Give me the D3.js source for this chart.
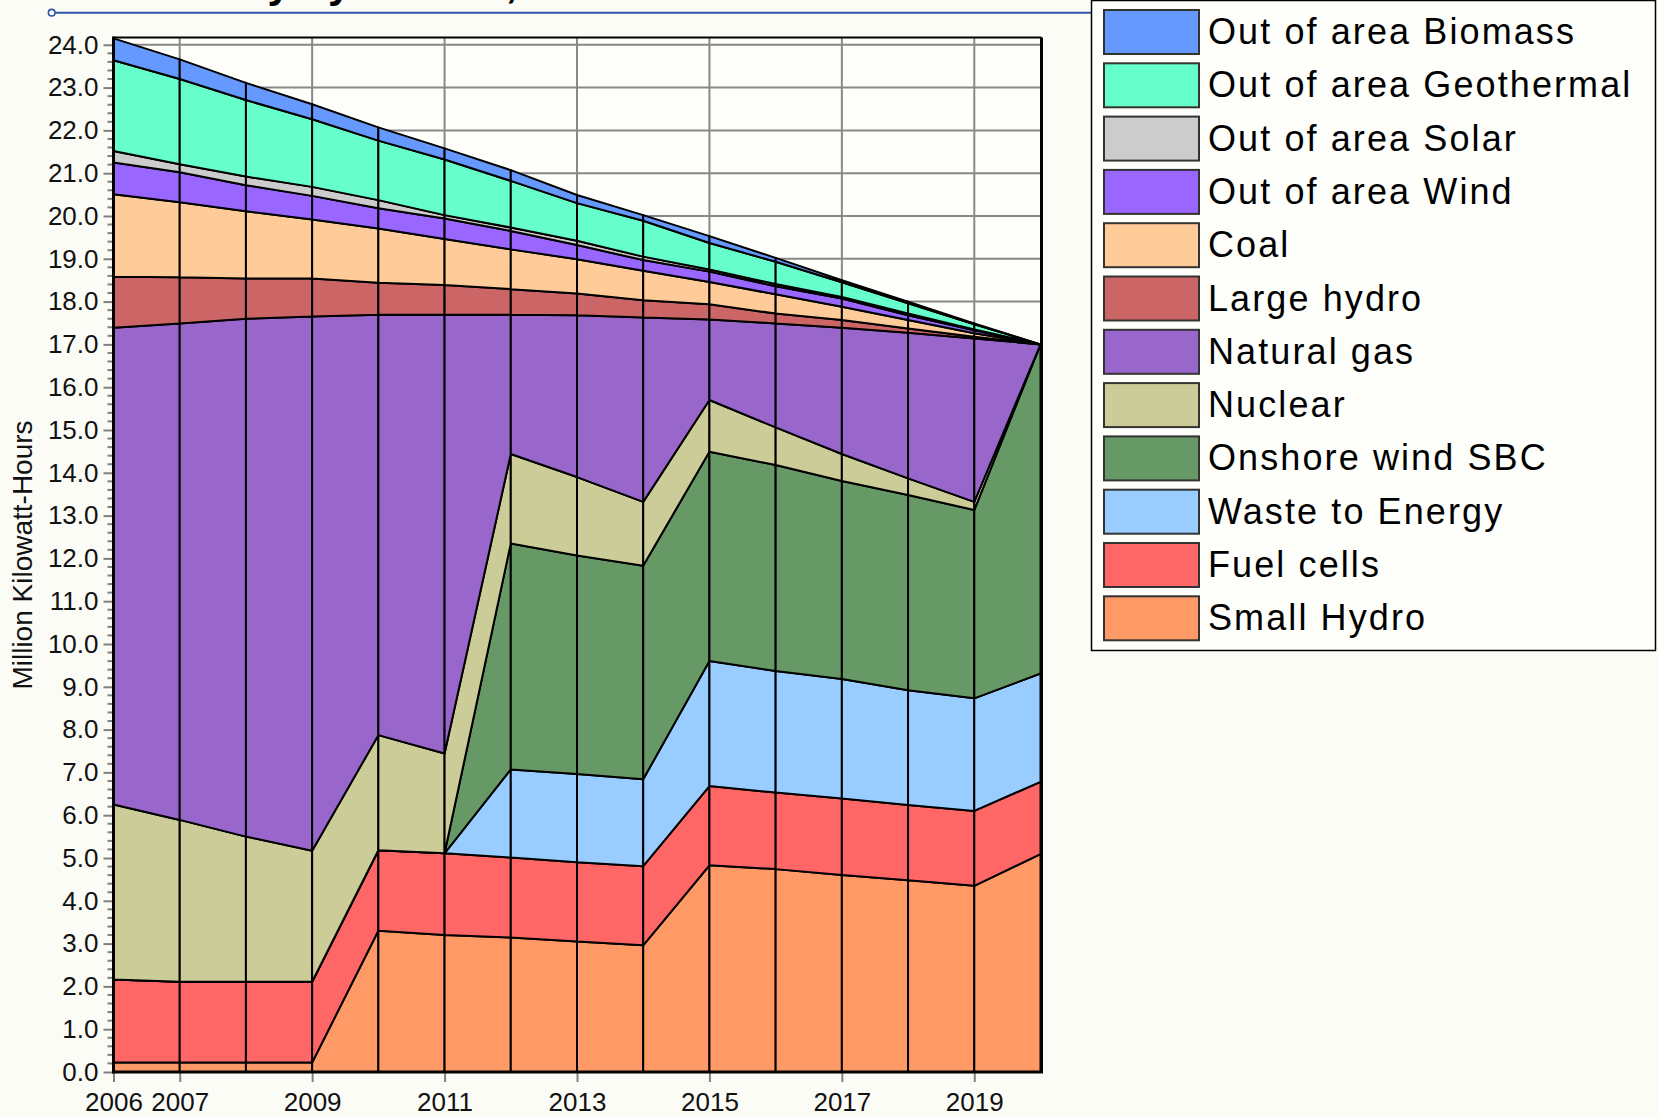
<!DOCTYPE html>
<html>
<head>
<meta charset="utf-8">
<script src="https://cdn.jsdelivr.net/npm/d3@7/dist/d3.min.js"></script>
<style>
  html, body { margin: 0; padding: 0; background: #fcfcf7; }
  svg { display: block; }
  text { font-family: "Liberation Sans", Arial, sans-serif; }
</style>
</head>
<body>
<svg id="chart" width="1658" height="1117"></svg>
<script>
// ---------- DATA ----------
const years = [2006, 2007, 2008, 2009, 2010, 2011, 2012, 2013, 2014, 2015, 2016, 2017, 2018, 2019, 2020];
const xTickYears = [2006, 2007, 2009, 2011, 2013, 2015, 2017, 2019];
const yTickValues = [0, 1, 2, 3, 4, 5, 6, 7, 8, 9, 10, 11, 12, 13, 14, 15, 16, 17, 18, 19, 20, 21, 22, 23, 24];

const smallHydro   = [0.22, 0.22, 0.22, 0.22, 3.30, 3.20, 3.14, 3.05, 2.96, 4.83, 4.74, 4.60, 4.48, 4.35, 5.09];
const fuelCells    = [1.94, 1.89, 1.89, 1.89, 1.88, 1.91, 1.87, 1.85, 1.85, 1.85, 1.79, 1.79, 1.76, 1.75, 1.69];
const wasteEnergy  = [0, 0, 0, 0, 0, 0, 2.06, 2.06, 2.03, 2.92, 2.84, 2.79, 2.68, 2.63, 2.53];
const onshoreWind  = [0, 0, 0, 0, 0, 0, 5.28, 5.11, 4.99, 4.89, 4.81, 4.63, 4.56, 4.40, 7.69];
const nuclear      = [4.09, 3.78, 3.39, 3.06, 2.69, 2.33, 2.09, 1.83, 1.49, 1.21, 0.88, 0.63, 0.39, 0.19, 0];
const naturalGas   = [11.14, 11.60, 12.10, 12.48, 9.82, 10.25, 3.25, 3.78, 4.31, 1.88, 2.43, 2.95, 3.40, 3.82, 0];
const largeHydro   = [1.19, 1.08, 0.94, 0.89, 0.75, 0.70, 0.60, 0.51, 0.40, 0.36, 0.23, 0.18, 0.10, 0.04, 0];
const coal         = [1.93, 1.75, 1.57, 1.38, 1.27, 1.07, 0.93, 0.80, 0.69, 0.52, 0.45, 0.31, 0.20, 0.08, 0];
const ooaWind      = [0.74, 0.70, 0.61, 0.55, 0.47, 0.48, 0.43, 0.33, 0.25, 0.24, 0.19, 0.19, 0.11, 0.07, 0];
const ooaSolar     = [0.27, 0.19, 0.20, 0.21, 0.19, 0.08, 0.08, 0.10, 0.08, 0.05, 0.05, 0.04, 0.04, 0.02, 0];
const ooaGeo       = [2.12, 1.99, 1.79, 1.58, 1.39, 1.30, 1.09, 0.88, 0.84, 0.62, 0.52, 0.34, 0.24, 0.12, 0];
const ooaBiomass   = [0.51, 0.46, 0.40, 0.35, 0.31, 0.26, 0.25, 0.19, 0.13, 0.16, 0.09, 0.05, 0.04, 0.02, 0];

// stacking order: bottom -> top
const seriesNames = ["Small Hydro", "Fuel cells", "Waste to Energy", "Onshore wind SBC", "Nuclear",
  "Natural gas", "Large hydro", "Coal", "Out of area Wind", "Out of area Solar",
  "Out of area Geothermal", "Out of area Biomass"];
const seriesValues = [smallHydro, fuelCells, wasteEnergy, onshoreWind, nuclear, naturalGas,
  largeHydro, coal, ooaWind, ooaSolar, ooaGeo, ooaBiomass];
const seriesColors = ["#ff9966", "#ff6666", "#99ccff", "#669966", "#cccc99", "#9966cc",
  "#cc6666", "#ffcc99", "#9966ff", "#cccccc", "#66ffcc", "#6699ff"];

const yAxisTitle = "Million Kilowatt-Hours";
const titleText = "Electricity by Source,";

// ---------- LAYOUT ----------
const svg = d3.select("#chart");
const plot = { left: 113.5, right: 1041.5, top: 37.5, bottom: 1072 };

const x = d3.scaleLinear().domain([2006, 2020]).range([plot.left, 1040.5]);
const y = d3.scaleLinear().domain([0, 24.17]).range([plot.bottom, plot.top]);

// data table for d3.stack
const table = years.map((yr, i) => {
  const row = { year: yr };
  seriesNames.forEach((n, k) => row[n] = seriesValues[k][i]);
  return row;
});
const stacked = d3.stack().keys(seriesNames)(table);

// title (clipped at top of picture, as in the reference)
svg.append("text")
  .attr("x", 90).attr("y", -3)
  .attr("font-size", 42).attr("font-weight", "bold")
  .attr("fill", "#000")
  .text(titleText);

// decorative blue rule
svg.append("line")
  .attr("x1", 52).attr("x2", 1091).attr("y1", 12.7).attr("y2", 12.7)
  .attr("stroke", "#3355aa").attr("stroke-width", 2);
svg.append("circle")
  .attr("cx", 51.7).attr("cy", 12.7).attr("r", 3.3)
  .attr("fill", "#fff").attr("stroke", "#3355aa").attr("stroke-width", 1.6);

// plot background
svg.append("rect")
  .attr("x", plot.left).attr("y", plot.top)
  .attr("width", plot.right - plot.left).attr("height", plot.bottom - plot.top)
  .attr("fill", "#fefefa");

// gridlines
const grid = svg.append("g");
grid.selectAll("line.h").data(yTickValues.filter(v => v > 0)).join("line")
  .attr("x1", plot.left).attr("x2", plot.right)
  .attr("y1", d => y(d)).attr("y2", d => y(d))
  .attr("stroke", "#888").attr("stroke-width", 2);
grid.selectAll("line.v").data(xTickYears.filter(v => v > 2006)).join("line")
  .attr("x1", d => x(d)).attr("x2", d => x(d))
  .attr("y1", plot.top).attr("y2", plot.bottom)
  .attr("stroke", "#888").attr("stroke-width", 2);

// stacked areas, drawn segment by segment (black outlines at each year)
const area = d3.area()
  .x(d => x(d.data.year))
  .y0(d => y(d[0]))
  .y1(d => y(d[1]));
const areas = svg.append("g");
stacked.forEach((s, k) => {
  for (let i = 0; i < s.length - 1; i++) {
    areas.append("path")
      .attr("d", area([s[i], s[i + 1]]))
      .attr("fill", seriesColors[k])
      .attr("stroke", "#000")
      .attr("stroke-width", 2)
      .attr("stroke-linejoin", "round");
  }
});

// frame
svg.append("line").attr("x1", plot.left).attr("x2", plot.right).attr("y1", plot.top).attr("y2", plot.top)
  .attr("stroke", "#000").attr("stroke-width", 2);
svg.append("line").attr("x1", plot.right).attr("x2", plot.right).attr("y1", plot.top).attr("y2", plot.bottom)
  .attr("stroke", "#000").attr("stroke-width", 3);

// y axis
const yAxis = d3.axisLeft(y).tickValues(yTickValues).tickFormat(d3.format(".1f")).tickSize(10).tickPadding(5);
const gy = svg.append("g").attr("transform", `translate(${plot.left},0)`).call(yAxis);
gy.select(".domain").remove();
gy.selectAll(".tick line").attr("stroke", "#808080").attr("stroke-width", 2);
gy.selectAll(".tick text").attr("font-size", 26).attr("fill", "#111")
  .attr("font-family", "'Liberation Sans', Arial, sans-serif");
// minor ticks
const minor = d3.range(0, 121).map(i => i / 5).filter(v => Math.abs(v - Math.round(v)) > 1e-6);
svg.append("g").selectAll("line").data(minor).join("line")
  .attr("x1", plot.left - 6).attr("x2", plot.left)
  .attr("y1", d => y(d)).attr("y2", d => y(d))
  .attr("stroke", "#808080").attr("stroke-width", 2);
svg.append("line").attr("x1", plot.left).attr("x2", plot.left).attr("y1", plot.top - 1).attr("y2", plot.bottom + 1.5)
  .attr("stroke", "#000").attr("stroke-width", 3);

// x axis
const xAxis = d3.axisBottom(x).tickValues(xTickYears).tickFormat(d3.format("d")).tickSize(10).tickPadding(11);
const gx = svg.append("g").attr("transform", `translate(0,${plot.bottom})`).call(xAxis);
gx.select(".domain").remove();
gx.selectAll(".tick line").attr("stroke", "#808080").attr("stroke-width", 2);
gx.selectAll(".tick text").attr("font-size", 26).attr("fill", "#111")
  .attr("font-family", "'Liberation Sans', Arial, sans-serif");
svg.append("line").attr("x1", plot.left - 1.5).attr("x2", plot.right + 1.5).attr("y1", plot.bottom).attr("y2", plot.bottom)
  .attr("stroke", "#000").attr("stroke-width", 3);

// y axis title
svg.append("text")
  .attr("transform", "translate(32,555) rotate(-90)")
  .attr("text-anchor", "middle")
  .attr("font-size", 28).attr("fill", "#111")
  .text(yAxisTitle);

// legend
const legendOrder = seriesNames.slice().reverse();
const legendColors = seriesColors.slice().reverse();
const legend = svg.append("g");
legend.append("rect")
  .attr("x", 1091.5).attr("y", 0.5).attr("width", 564).attr("height", 650)
  .attr("fill", "#fefefa").attr("stroke", "#000").attr("stroke-width", 1.5);
const rows = legend.selectAll("g.row").data(legendOrder).join("g")
  .attr("transform", (d, i) => `translate(0,${10 + i * 53.3})`);
rows.append("rect")
  .attr("x", 1104).attr("y", 0).attr("width", 95).attr("height", 44)
  .attr("fill", (d, i) => legendColors[i])
  .attr("stroke", "#333").attr("stroke-width", 2);
rows.append("text")
  .attr("x", 1208).attr("y", 34)
  .attr("font-size", 36).attr("letter-spacing", 2.1).attr("fill", "#000")
  .text(d => d);
</script>
</body>
</html>
